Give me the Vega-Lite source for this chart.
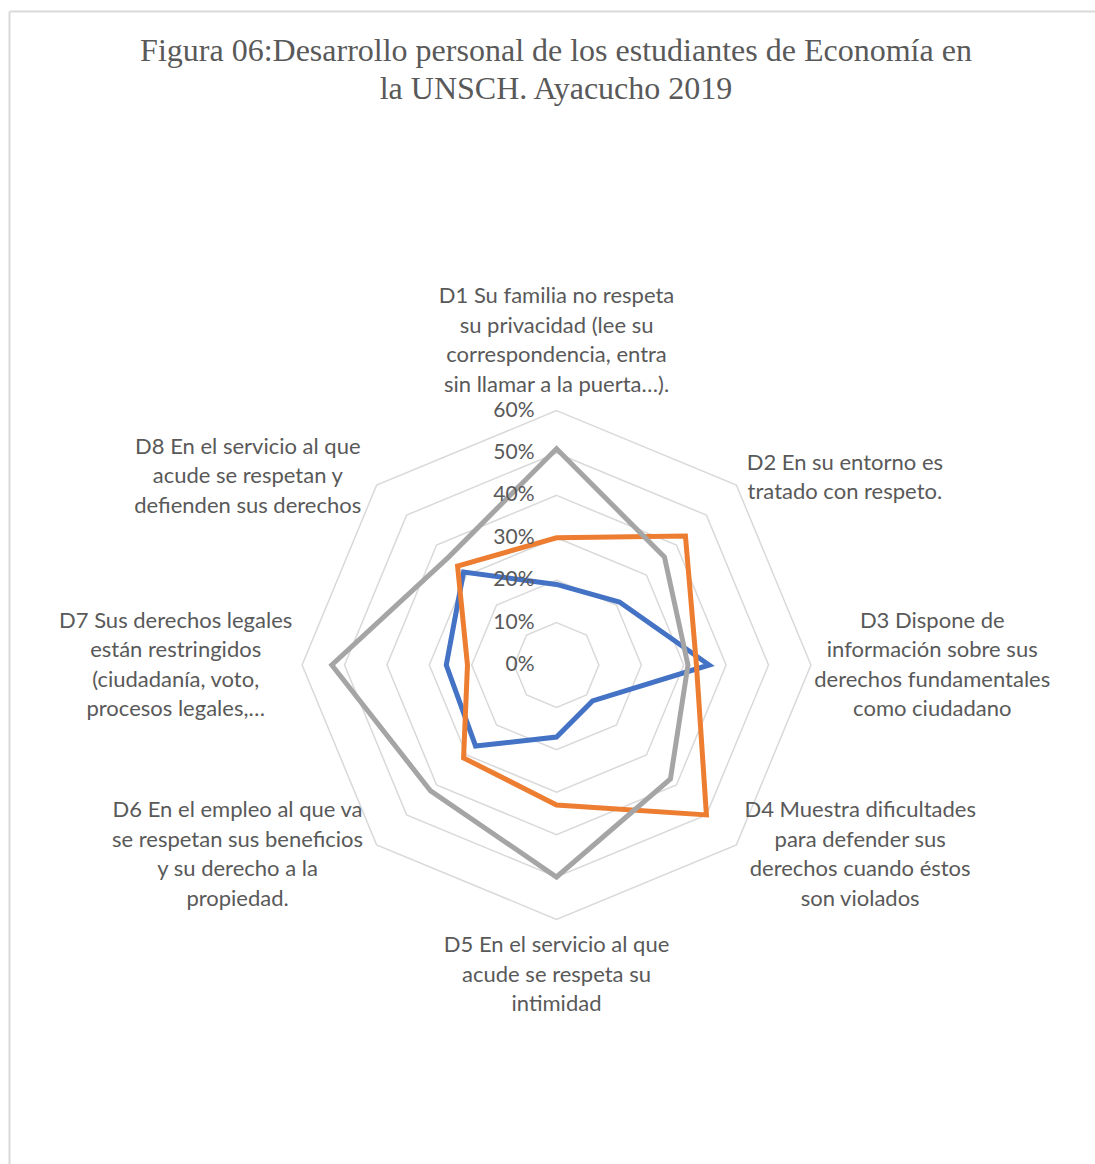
{
  "$schema": "https://vega.github.io/schema/vega-lite/v6.json",
  "width": 1086,
  "height": 1153,
  "autosize": {"type": "none"},
  "padding": {"left": 9, "top": 11, "right": 0, "bottom": 0},
  "background": "white",
  "config": {"view": {"stroke": null}},
  "title": {
    "text": ["Figura 06:Desarrollo personal de los estudiantes de Economía en", "la UNSCH. Ayacucho 2019"],
    "font": "Liberation Serif",
    "fontSize": 32,
    "fontWeight": "normal",
    "color": "#595959",
    "lineHeight": 38,
    "anchor": "middle",
    "frame": "group",
    "offset": 0,
    "dx": 4,
    "dy": 95
  },
  "datasets": {
    "valores": [
      {"serie": "Serie 1", "i": 0, "dim": "D1", "valor": 0.19},
      {"serie": "Serie 1", "i": 1, "dim": "D2", "valor": 0.21},
      {"serie": "Serie 1", "i": 2, "dim": "D3", "valor": 0.36},
      {"serie": "Serie 1", "i": 3, "dim": "D4", "valor": 0.12},
      {"serie": "Serie 1", "i": 4, "dim": "D5", "valor": 0.17},
      {"serie": "Serie 1", "i": 5, "dim": "D6", "valor": 0.27},
      {"serie": "Serie 1", "i": 6, "dim": "D7", "valor": 0.26},
      {"serie": "Serie 1", "i": 7, "dim": "D8", "valor": 0.31},
      {"serie": "Serie 2", "i": 0, "dim": "D1", "valor": 0.30},
      {"serie": "Serie 2", "i": 1, "dim": "D2", "valor": 0.43},
      {"serie": "Serie 2", "i": 2, "dim": "D3", "valor": 0.33},
      {"serie": "Serie 2", "i": 3, "dim": "D4", "valor": 0.50},
      {"serie": "Serie 2", "i": 4, "dim": "D5", "valor": 0.33},
      {"serie": "Serie 2", "i": 5, "dim": "D6", "valor": 0.31},
      {"serie": "Serie 2", "i": 6, "dim": "D7", "valor": 0.21},
      {"serie": "Serie 2", "i": 7, "dim": "D8", "valor": 0.33},
      {"serie": "Serie 3", "i": 0, "dim": "D1", "valor": 0.51},
      {"serie": "Serie 3", "i": 1, "dim": "D2", "valor": 0.36},
      {"serie": "Serie 3", "i": 2, "dim": "D3", "valor": 0.31},
      {"serie": "Serie 3", "i": 3, "dim": "D4", "valor": 0.38},
      {"serie": "Serie 3", "i": 4, "dim": "D5", "valor": 0.50},
      {"serie": "Serie 3", "i": 5, "dim": "D6", "valor": 0.42},
      {"serie": "Serie 3", "i": 6, "dim": "D7", "valor": 0.53},
      {"serie": "Serie 3", "i": 7, "dim": "D8", "valor": 0.36}
    ],
    "grilla": [
      {"nivel": 0.1, "k": [0, 1, 2, 3, 4, 5, 6, 7]},
      {"nivel": 0.2, "k": [0, 1, 2, 3, 4, 5, 6, 7]},
      {"nivel": 0.3, "k": [0, 1, 2, 3, 4, 5, 6, 7]},
      {"nivel": 0.4, "k": [0, 1, 2, 3, 4, 5, 6, 7]},
      {"nivel": 0.5, "k": [0, 1, 2, 3, 4, 5, 6, 7]},
      {"nivel": 0.6, "k": [0, 1, 2, 3, 4, 5, 6, 7]}
    ],
    "marcas": [
      {"nivel": 0}, {"nivel": 0.1}, {"nivel": 0.2}, {"nivel": 0.3},
      {"nivel": 0.4}, {"nivel": 0.5}, {"nivel": 0.6}
    ],
    "etiquetas": [
      {"i": 0, "texto": ["D1 Su familia no respeta", "su privacidad (lee su", "correspondencia, entra", "sin llamar a la puerta…)."]},
      {"i": 1, "texto": ["D2 En su entorno es", "tratado con respeto."]},
      {"i": 2, "texto": ["D3 Dispone de", "información sobre sus", "derechos fundamentales", "como ciudadano"]},
      {"i": 3, "texto": ["D4 Muestra dificultades", "para defender sus", "derechos cuando éstos", "son violados"]},
      {"i": 4, "texto": ["D5 En el servicio al que", "acude se respeta su", "intimidad"]},
      {"i": 5, "texto": ["D6 En el empleo al que va", "se respetan sus beneficios", "y su derecho a la", "propiedad."]},
      {"i": 6, "texto": ["D7 Sus derechos legales", "están restringidos", "(ciudadanía, voto,", "procesos legales,…"]},
      {"i": 7, "texto": ["D8 En el servicio al que", "acude se respetan y", "defienden sus derechos"]}
    ]
  },
  "encoding": {
    "x": {
      "field": "x", "type": "quantitative",
      "scale": {"domain": [-1.2913, 1.27], "nice": false, "zero": false},
      "axis": {"orient": "top", "title": null, "labels": false, "ticks": false, "grid": false, "domain": true, "domainColor": "#D9D9D9", "domainWidth": 2}
    },
    "y": {
      "field": "y", "type": "quantitative",
      "scale": {"domain": [-1.1769, 1.5425], "nice": false, "zero": false},
      "axis": {"orient": "left", "title": null, "labels": false, "ticks": false, "grid": false, "domain": true, "domainColor": "#D9D9D9", "domainWidth": 2}
    }
  },
  "layer": [
    {
      "data": {"name": "grilla"},
      "transform": [
        {"flatten": ["k"]},
        {"calculate": "datum.nivel * sin(datum.k * PI / 4)", "as": "x"},
        {"calculate": "datum.nivel * cos(datum.k * PI / 4)", "as": "y"}
      ],
      "mark": {"type": "line", "interpolate": "linear-closed", "stroke": "#D9D9D9", "strokeWidth": 1.5},
      "encoding": {
        "detail": {"field": "nivel", "type": "nominal"},
        "order": {"field": "k", "type": "quantitative"}
      }
    },
    {
      "data": {"name": "valores"},
      "transform": [
        {"calculate": "datum.valor * sin(datum.i * PI / 4)", "as": "x"},
        {"calculate": "datum.valor * cos(datum.i * PI / 4)", "as": "y"}
      ],
      "mark": {"type": "line", "interpolate": "linear-closed", "strokeWidth": 5, "strokeJoin": "miter", "strokeMiterLimit": 4},
      "encoding": {
        "color": {
          "field": "serie", "type": "nominal",
          "scale": {"domain": ["Serie 1", "Serie 2", "Serie 3"], "range": ["#4472C4", "#ED7D31", "#A5A5A5"]},
          "legend": null
        },
        "order": {"field": "i", "type": "quantitative"}
      }
    },
    {
      "data": {"name": "marcas"},
      "transform": [
        {"calculate": "0", "as": "x"},
        {"calculate": "datum.nivel", "as": "y"}
      ],
      "mark": {"type": "text", "align": "right", "baseline": "middle", "dx": -22, "font": "Lato", "fontSize": 21, "color": "#595959"},
      "encoding": {
        "text": {"field": "nivel", "type": "quantitative", "format": ".0%"}
      }
    },
    {
      "data": {"name": "etiquetas"},
      "transform": [
        {"calculate": "sin(datum.i * PI / 4)", "as": "s"},
        {"calculate": "cos(datum.i * PI / 4)", "as": "c"},
        {"calculate": "length(datum.texto)", "as": "n"},
        {"calculate": "max(length(datum.texto[0] || ''), length(datum.texto[1] || ''), length(datum.texto[2] || ''), length(datum.texto[3] || ''))", "as": "m"},
        {"calculate": "0.6215 * datum.s + (abs(datum.s) < 0.01 ? 0 : (datum.s < 0 ? -1 : 1)) * 0.01203 * datum.m", "as": "x"},
        {"calculate": "(datum.c < 0 ? -1 : 1) * pow(abs(datum.c), 1.03) * 0.626 + (datum.c < 0 ? -1 : 1) * pow(abs(datum.c), 8) * 0.0348 * datum.n + (datum.n - 1) * 0.0348", "as": "y"}
      ],
      "mark": {"type": "text", "align": "center", "baseline": "middle", "lineHeight": 29.5, "font": "Lato", "fontSize": 22, "color": "#595959"},
      "encoding": {
        "text": {"field": "texto"}
      }
    }
  ]
}
